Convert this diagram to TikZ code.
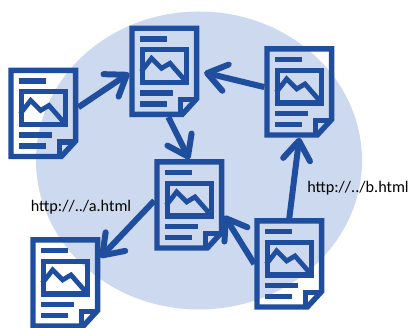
\documentclass[tikz,border=0pt]{standalone}
\usepackage{fontspec}
\setmainfont{Carlito}
\usepackage{xcolor}
\usetikzlibrary{arrows.meta}
\definecolor{docblue}{HTML}{1F4E9E}
\definecolor{blobblue}{HTML}{CDD9EF}
\tikzset{
	docbox/.style={minimum width=70pt, minimum height=91.5pt, inner sep=0pt, outer sep=0pt},
	link/.style={docblue, line width=6pt, -{Straight Barb[length=19pt,width=27pt,round]}},
	urltext/.style={font=\fontsize{16.2}{18}\selectfont, text=black, inner sep=0pt},
	docicon/.pic={
		\draw [docblue, line width=5.4pt, miter limit=10] (-32.3,-43.05) -- (32.3,-43.05) -- (32.3,27.5) -- (18,43.05) -- (-32.3,43.05) -- cycle;
		\draw [docblue, line width=5.2pt] (16.4,43.05) -- (16.4,28.5) -- (32.3,28.5);
		\draw [docblue, line width=5.4pt] (-21.7,-21.75) rectangle (22,10.95);
		\draw [docblue, line width=4.8pt] (-23,0.25) -- (-12.7,-13.05) -- (-2.7,-3.05) -- (5.7,-8.05) -- (20,8.25);
		\draw [docblue, line width=5.4pt] (-24.3,-32.45) -- (2.3,-32.45);
		\draw [docblue, line width=5.4pt] (-24.3,21.55) -- (8.3,21.55);
		\draw [docblue, line width=5.4pt] (-24.3,32.55) -- (2.3,32.55);
	}
}
\begin{document}
\begin{tikzpicture}[x=1pt, y=-1pt]
	\useasboundingbox (0,0) rectangle (410,328);
	\fill [blobblue] (199,160.5) ellipse [x radius=163, y radius=149];
	\node [docbox] (docA) at (43.3,113.5) {};
	\node [docbox] (docB) at (164.3,71.3) {};
	\node [docbox] (docC) at (299.3,92) {};
	\node [docbox] (docD) at (189.3,205) {};
	\node [docbox] (docE) at (65.3,283) {};
	\node [docbox] (docF) at (289.3,264) {};
	\draw [link] (docA.10) -- (docB.183);
	\draw [link] (docB.-85) -- (docD.90);
	\draw [link, shorten >=5pt] (docC.172) -- (docB.0);
	\draw [link] (docF.90) -- (docC.-90);
	\draw [link] (docF.180) -- (docD.-17);
	\draw [link] (docD.173) -- (docE.36);
	\pic at (docA) {docicon};
	\pic at (docB) {docicon};
	\pic at (docC) {docicon};
	\pic at (docD) {docicon};
	\pic at (docE) {docicon};
	\pic at (docF) {docicon};
	\node [urltext] (urlA) at (81,207) {http://../a.html};
	\node [urltext] (urlB) at (358,188) {http://../b.html};
\end{tikzpicture}
\end{document}
